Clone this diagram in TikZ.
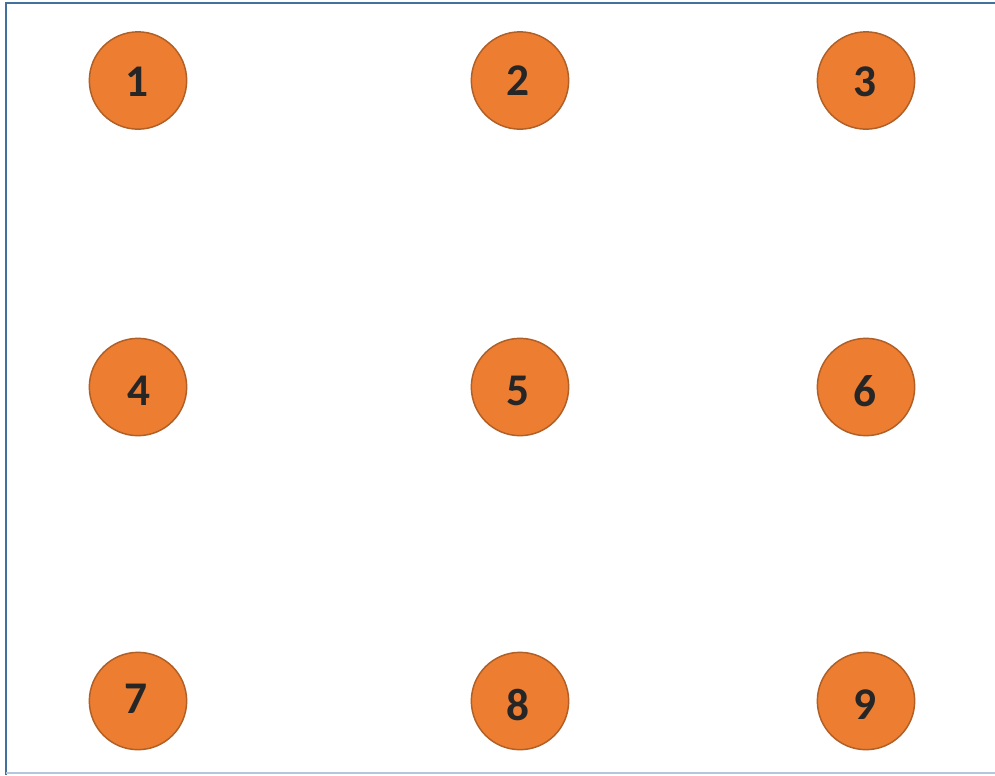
\documentclass[tikz,border=0pt]{standalone}
\usepackage{fontspec}
\setmainfont{Carlito}
\definecolor{ball}{HTML}{ED7D31}
\definecolor{balledge}{HTML}{B05F26}
\definecolor{digit}{HTML}{262626}
\definecolor{frameblue}{HTML}{41719C}
\definecolor{framelight}{HTML}{B4C7DC}
\tikzset{
  ballnode/.style={circle, fill=ball, draw=balledge, line width=1.1pt, minimum size=73pt, inner sep=0pt},
  digitnode/.style={inner sep=0pt, text=digit, font=\fontsize{34}{34}\selectfont\bfseries},
}
\begin{document}
\begin{tikzpicture}[x=0.75pt, y=-0.75pt]
\useasboundingbox (0,0) rectangle (995,775);
\fill[white] (0,0) rectangle (995,775);
\coordinate (tl) at (6,3);
\coordinate (tr) at (995,3);
\coordinate (bl) at (6,775);
\coordinate (bl2) at (6,773);
\coordinate (br) at (995,773);
\draw[frameblue, line width=1.6pt] (tr) -- (tl) -- (bl);
\draw[framelight, line width=0.9pt] (bl2) -- (br);
% balls
\node[ballnode] (c1) at (138,80.5) {};
\node[ballnode] (c2) at (520,80.5) {};
\node[ballnode] (c3) at (866,80.5) {};
\node[ballnode] (c4) at (138,387) {};
\node[ballnode] (c5) at (520,387) {};
\node[ballnode] (c6) at (866,387) {};
\node[ballnode] (c7) at (138,701) {};
\node[ballnode] (c8) at (520,701) {};
\node[ballnode] (c9) at (866,701) {};
% digits
\node[digitnode] (t1) at (136.5,82) {1};
\node[digitnode] (t2) at (518,81) {2};
\node[digitnode] (t3) at (865,82) {3};
\node[digitnode] (t4) at (139,391) {4};
\node[digitnode] (t5) at (518,391) {5};
\node[digitnode] (t6) at (865,391) {6};
\node[digitnode] (t7) at (136,698.5) {7};
\node[digitnode] (t8) at (518,705) {8};
\node[digitnode] (t9) at (864.5,704.5) {9};
\end{tikzpicture}
\end{document}
